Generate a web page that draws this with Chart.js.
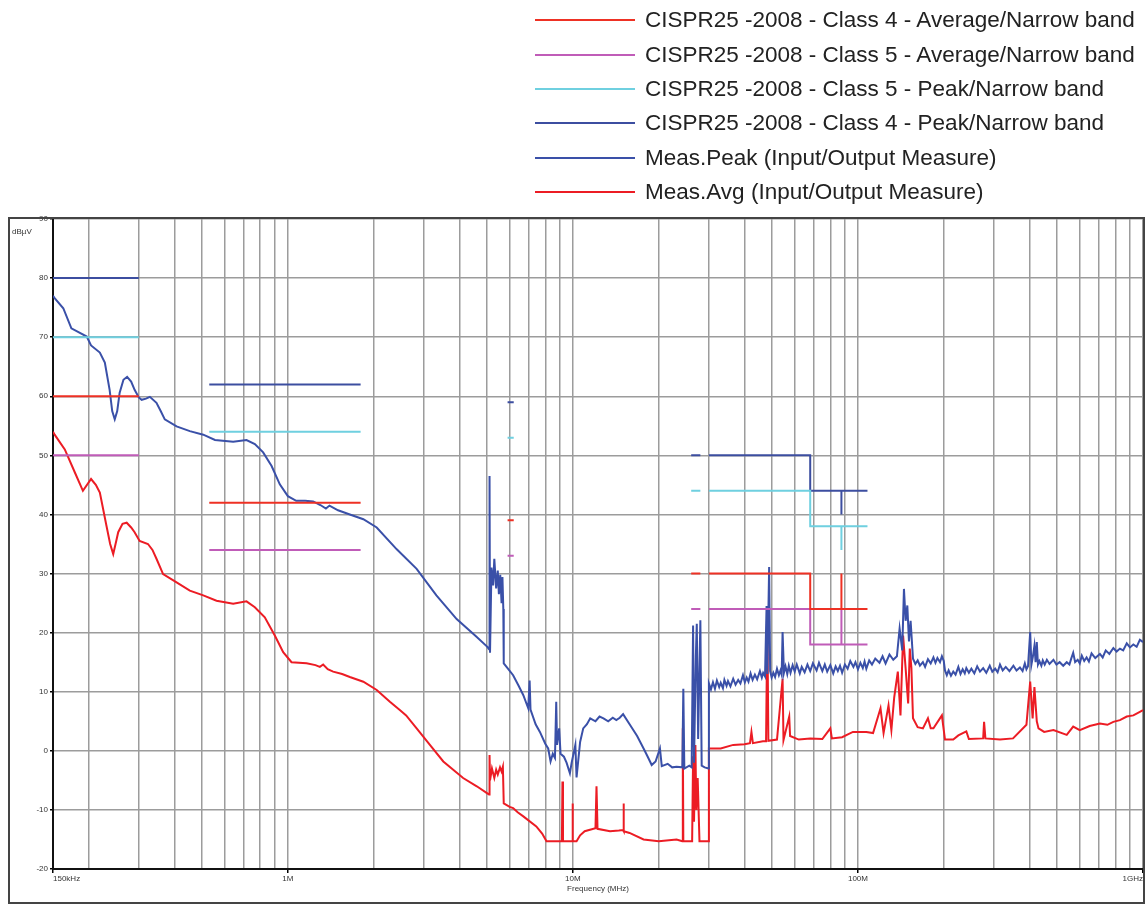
<!DOCTYPE html>
<html>
<head>
<meta charset="utf-8">
<title>CISPR25 - Input/Output Measure</title>
<script src="https://cdn.jsdelivr.net/npm/chart.js@4.4.1/dist/chart.umd.min.js"></script>
<style>
  html, body { margin: 0; padding: 0; background: #fff; }
  #wrap { position: relative; width: 1146px; height: 905px; }
  #legend { position: absolute; top: 3px; right: 6px; margin: 0; padding: 0; list-style: none;
    font-family: 'Liberation Sans', Arial, sans-serif; font-size: 22.5px; color: #222; }
  #legend li { height: 34.4px; display: flex; align-items: center; justify-content: flex-end; }
  #legend .swatch { display: inline-block; width: 100px; height: 2px; margin-right: 10px; }
  #legend .txt { display: inline-block; width: 495px; white-space: nowrap; }
</style>
</head>
<body>
<div id="wrap">
  <canvas id="emiChart" width="1146" height="905"></canvas>
  <ul id="legend"></ul>
</div>
<script>
// asse X in MHz (scala log), asse Y in dBµV
const xTickValues = [0.15, 0.2, 0.3, 0.4, 0.5, 0.6, 0.7, 0.8, 0.9,
  1, 2, 3, 4, 5, 6, 7, 8, 9, 10, 20, 30, 40, 50, 60, 70, 80, 90,
  100, 200, 300, 400, 500, 600, 700, 800, 900, 1000];
const xTickLabels = { 0.15: "150kHz", 1: "1M", 10: "10M", 100: "100M", 1000: "1GHz" };
const yTickStep = 10;

// limiti CISPR25 (null = interruzione tra le bande)
const limitFreq = [0.15, 0.3, 0.3, 0.53, 1.8, 1.8, 5.9, 6.2, 6.2, 26, 28, 28,
  30, 68, 68, 87.5, 87.5, 87.5, 108];
const class4Avg = [60, 60, null, 42, 42, null, 39, 39, null, 30, 30, null,
  30, 30, 24, 24, 30, 24, 24];
const class5Avg = [50, 50, null, 34, 34, null, 33, 33, null, 24, 24, null,
  24, 24, 18, 18, 24, 18, 18];
const class5Peak = [70, 70, null, 54, 54, null, 53, 53, null, 44, 44, null,
  44, 44, 38, 38, 34, 38, 38];
const class4Peak = [80, 80, null, 62, 62, null, 59, 59, null, 50, 50, null,
  50, 50, 44, 44, 40, 44, 44];

// misura di picco, 150 kHz - 30 MHz
const peakFreqLow = [0.15, 0.152, 0.163, 0.174, 0.185, 0.197, 0.204, 0.219, 0.228, 0.237, 0.242,
  0.247, 0.252, 0.257, 0.265, 0.273, 0.282, 0.29, 0.3, 0.307, 0.318, 0.328, 0.346, 0.358,
  0.37, 0.407, 0.453, 0.505, 0.555, 0.643, 0.716, 0.766, 0.819, 0.877, 0.937, 1.0, 1.07,
  1.15, 1.227, 1.3, 1.36, 1.4, 1.5, 1.65, 1.84, 2.05, 2.41, 2.83, 3.32, 3.91, 4.59, 5.01,
  5.08, 5.1, 5.12, 5.18, 5.25, 5.3, 5.38, 5.45, 5.5, 5.56, 5.62, 5.66, 5.7, 5.72, 5.85,
  6.17, 6.45, 6.7, 6.97, 7.05, 7.1, 7.4, 7.66, 8.0, 8.19, 8.35, 8.5, 8.65, 8.74, 8.8,
  8.95, 9.05, 9.3, 9.5, 9.76, 9.9, 10.2, 10.3, 10.6, 10.87, 11.2, 11.5, 12.0, 12.4, 12.8,
  13.3, 13.8, 14.2, 14.6, 15.0, 15.85, 16.8, 17.7, 18.3, 18.9, 19.5, 20.2, 20.5, 21.5,
  22.3, 23.1, 24.2, 24.4, 24.6, 25.6, 26.1, 26.4, 26.6, 27.0, 27.2, 27.5, 28.0, 28.3,
  29.0, 29.9];
const peakValLow = [77.0, 76.6, 74.9, 71.5, 70.8, 70.1, 68.6, 67.4, 65.7, 61.1, 57.5,
  56.1, 57.5, 60.6, 62.8, 63.3, 62.5, 61.1, 59.8, 59.4, 59.6, 59.9, 58.9, 57.5,
  56.1, 54.9, 54.1, 53.5, 52.6, 52.3, 52.6, 51.9, 50.5, 48.2, 45.1, 43.1, 42.3,
  42.3, 42.2, 41.6, 41.0, 41.5, 40.7, 40.0, 39.2, 37.8, 34.1, 30.8, 26.3, 22.3, 19.3, 17.6,
  17.2, 46.5, 16.6, 31.0, 28.0, 32.5, 27.5, 30.5, 26.5, 29.8, 25.0, 29.4, 24.0, 14.8, 14.2,
  12.8, 11.0, 9.4, 7.2, 11.9, 7.0, 4.5, 3.2, 1.2, 0.4, -1.8, -0.5, -1.2, 8.3, 1.0,
  3.8, -0.5, -1.0, -2.0, -3.8, -2.0, 1.0, -4.5, 1.5, 3.8, 4.5, 5.5, 5.0, 5.8, 5.5,
  5.0, 5.6, 5.2, 5.6, 6.2, 4.4, 2.5, 0.4, -1.0, -2.4, -1.8, 0.4, -2.6, -2.2,
  -2.8, -2.7, -2.8, 10.5, -3.0, -2.5, -2.8, 21.2, -2.0, 16.0, 21.5, 2.0, 22.1, -2.5,
  -2.8, -3.0];

// misura di picco, 30 MHz - 1 GHz
const peakFreqHigh = [30.0, 30.5, 31, 31.5, 32, 32.6, 33, 33.6, 34, 34.6,
  35, 35.7, 36.5, 37.2, 38, 38.7, 39.5, 40.1, 40.7, 41.3,
  42, 42.7, 43.5, 44.3, 45.3, 46, 46.5, 47.2, 47.8, 48.1,
  48.8, 49.2, 49.8, 50.5, 51.2, 52, 52.8, 53.5, 54.0, 54.4,
  55, 55.7, 56.5, 57.2, 58, 59, 60, 61, 62.5, 63.5,
  65, 66.5, 68, 69.5, 71.6, 73, 75, 76.5, 78, 80,
  81.9, 83.5, 85, 86.5, 88, 90, 92, 94, 96.4, 98,
  100, 102, 104, 105.5, 107, 109.5, 112, 115, 119, 122,
  125, 129, 133, 137, 140, 143, 145, 147, 149, 151,
  153, 156, 159, 162, 165, 169, 172, 176, 180, 184,
  187, 190, 194, 197, 200, 202, 205, 208, 212, 216,
  220, 225, 229, 233, 237, 240, 245, 250, 256, 262,
  268, 275, 282, 290, 296, 303, 309, 315, 322, 330,
  340, 351, 360, 370, 378, 385, 390, 395, 402, 406,
  411, 416, 420, 424, 428, 433, 440, 445, 452, 460,
  470, 485, 497, 510, 525, 540, 552, 560, 569, 578,
  590, 600, 610, 622, 634, 646, 660, 680, 706, 722,
  740, 762, 787, 808, 830, 852, 877, 900, 925, 950,
  975, 1000];
const peakValHigh = [11.4, 10.4, 11.6, 10.5, 11.9, 10.8, 11.5, 10.6, 12.0, 11.0,
  11.8, 10.9, 12.2, 11.2, 12.0, 11.4, 12.8, 11.6, 12.4, 11.7,
  13.1, 12.0, 12.9, 12.1, 13.5, 12.4, 13.2, 12.6, 24.5, 13.0,
  31.1, 13.5, 12.4, 13.2, 12.5, 13.9, 12.8, 13.6, 12.9, 20.1,
  13.2, 14.3, 13.0, 14.4, 13.2, 14.5, 13.4, 14.6, 13.1, 14.2,
  13.3, 14.6, 13.5, 14.8, 13.6, 14.9, 13.5, 14.6, 13.4, 14.5,
  13.1, 14.3, 13.5, 14.4, 13.2, 14.6, 13.9, 15.2, 14.2, 15.0,
  13.8, 14.9, 14.0, 15.1, 13.9, 15.3, 14.6, 15.6, 14.9, 16.0,
  14.8, 16.3, 15.4, 16.0, 20.7, 17.0, 27.4, 22.0, 24.6, 18.5,
  22.0, 15.6, 14.7, 15.3, 14.4, 15.0, 14.2, 15.5, 14.8, 15.8,
  14.9, 15.7, 15.0, 16.0, 15.2, 13.6, 12.8, 13.6, 12.7, 13.4,
  12.9, 14.2, 13.0, 13.8, 13.1, 14.0, 13.2, 13.9, 13.1, 14.3,
  13.4, 14.0, 13.2, 14.4, 13.4, 13.9, 13.3, 14.6, 13.6, 14.2,
  13.5, 14.4, 13.6, 14.1, 13.5, 14.8, 13.8, 14.3, 20.1, 14.6,
  16.0, 17.8, 15.0, 18.4, 14.6, 15.2, 14.4, 15.3, 14.6, 15.4,
  14.7, 15.4, 14.6, 15.0, 14.4, 15.0, 14.6, 15.6, 16.6, 15.0,
  15.4, 14.8, 16.1, 15.2, 15.8, 15.1, 16.5, 15.7, 16.4, 15.8,
  17.0, 16.4, 17.4, 16.8, 17.3, 17.0, 18.2, 17.5, 18.0, 17.6,
  18.8, 18.4];

// misura media
const avgFreq = [0.15, 0.152, 0.165, 0.179, 0.191, 0.204, 0.212, 0.219, 0.231, 0.238, 0.244,
  0.25, 0.254, 0.263, 0.272, 0.282, 0.29, 0.302, 0.323, 0.335, 0.346, 0.365, 0.407, 0.453,
  0.505, 0.562, 0.643, 0.716, 0.766, 0.83, 0.9, 0.963, 1.03, 1.163, 1.25, 1.295, 1.33,
  1.38, 1.442, 1.55, 1.65, 1.84, 2.05, 2.28, 2.47, 2.6, 2.83, 3.15, 3.51, 4.12, 4.6,
  5.01, 5.08, 5.1, 5.12, 5.2, 5.3, 5.38, 5.45, 5.55, 5.62, 5.68, 5.72, 6.0, 6.17, 6.4,
  6.7, 7.44, 7.8, 8.08, 9.15, 9.19, 9.23, 9.95, 9.97, 10.0, 10.3, 10.6, 11.0, 12.0,
  12.1, 12.2, 13.5, 14.5, 15.0, 15.05, 15.1, 15.8, 17.7, 20, 23.1, 24.2, 24.3, 24.4,
  25.5, 26.2, 26.4, 26.6, 26.9, 27.1, 27.4, 27.8, 29.9, 30.0, 33, 36.5, 40, 41.8, 42.3,
  42.8, 46.4, 47.6, 48.1, 48.5, 52, 54.4, 54.8, 57.4, 57.8, 62, 68, 75, 80, 81, 88, 96,
  107, 113, 120, 123, 128, 131, 134, 138, 141, 144, 147, 150, 152, 154, 156, 162, 169,
  176, 180, 184, 197, 200, 202, 216, 225, 240, 245, 275, 277, 280, 315, 350, 390, 402,
  410, 416, 424, 430, 450, 485, 540, 569, 600, 650, 706, 750, 787, 830, 877, 925, 975, 1000];
const avgVal = [54.0, 53.5, 51.0, 47.1, 44.0, 46.0, 45.0, 43.7, 38.1, 35.0, 33.3,
  35.5, 37.0, 38.4, 38.6, 37.8, 37.0, 35.5, 35.0, 34.0, 32.5, 29.9, 28.5, 27.1,
  26.3, 25.4, 24.9, 25.3, 24.3, 22.6, 19.5, 16.7, 15.0, 14.8, 14.5, 14.2, 14.6,
  13.8, 13.4, 13.0, 12.5, 11.7, 10.3, 8.3, 6.9, 6.0, 3.8, 1.0, -1.8, -4.6, -6.0,
  -7.2, -7.4, -0.7, -5.0, -3.0, -4.6, -3.2, -4.0, -2.8, -3.5, -2.7, -8.9, -9.5, -9.7, -10.4,
  -11.1, -12.8, -14.0, -15.3, -15.3, -5.2, -15.3, -15.3, -8.9, -15.3, -15.3, -14.3, -13.6, -13.1,
  -6.0, -13.2, -13.6, -13.5, -13.4, -8.9, -13.6, -13.9, -15.0, -15.3, -15.0, -15.3, 3.8, -15.3,
  -15.3, -15.3, -0.9, -12.0, 1.0, -10.0, -4.6, -15.3, -15.3, 0.4, 0.4, 1.0, 1.1, 1.3, 3.2,
  1.3, 1.6, 1.6, 22.3, 1.7, 1.9, 12.2, 1.8, 5.8, 2.5, 1.9, 2.1, 2.0, 3.8, 2.1, 2.3, 3.2,
  3.2, 3.0, 7.2, 3.0, 7.7, 3.5, 9.0, 13.4, 6.0, 19.5, 13.9, 8.0, 17.3, 14.0, 5.5, 4.0, 3.8,
  5.5, 3.8, 3.8, 6.0, 3.5, 1.9, 1.9, 2.6, 3.3, 2.0, 2.1, 4.9, 2.1, 1.9, 2.1, 4.4, 11.7,
  5.5, 10.8, 5.0, 3.8, 3.2, 3.5, 2.7, 4.1, 3.5, 4.2, 4.6, 4.4, 4.9, 5.2, 5.8, 6.0, 6.6, 6.9];

const toPoints = (xs, ys) => xs.map((x, i) => ({ x: x, y: ys[i] }));

const lineSet = (label, color, points) => ({
  label: label,
  data: points,
  borderColor: color,
  backgroundColor: color,
  borderWidth: 2,
  pointRadius: 0,
  fill: false,
  tension: 0,
  spanGaps: false
});

const framePlugin = {
  id: "frame",
  beforeDraw(chart) {
    const ctx = chart.ctx;
    ctx.save();
    ctx.fillStyle = "#fff";
    ctx.fillRect(0, 0, chart.width, chart.height);
    ctx.restore();
  },
  afterDraw(chart) {
    const { ctx, chartArea } = chart;
    ctx.save();
    ctx.strokeStyle = "#444";
    ctx.lineWidth = 2;
    ctx.strokeRect(9, chartArea.top - 1, chartArea.right - 8, chart.height - chartArea.top - 1);
    ctx.fillStyle = "#333";
    ctx.font = "8px 'Liberation Sans', Arial, sans-serif";
    ctx.textBaseline = "middle";
    ctx.fillText("dBµV", 12, chartArea.top + 13);
    ctx.restore();
  }
};

const chart = new Chart(document.getElementById("emiChart"), {
  type: "line",
  data: {
    datasets: [
      lineSet("CISPR25 -2008 - Class 4 - Average/Narrow band", "#ee3124", toPoints(limitFreq, class4Avg)),
      lineSet("CISPR25 -2008 - Class 5 - Average/Narrow band", "#c05cb8", toPoints(limitFreq, class5Avg)),
      lineSet("CISPR25 -2008 - Class 5 - Peak/Narrow band", "#6fd0e0", toPoints(limitFreq, class5Peak)),
      lineSet("CISPR25 -2008 - Class 4 - Peak/Narrow band", "#3c4ea0", toPoints(limitFreq, class4Peak)),
      lineSet("Meas.Peak (Input/Output Measure)", "#3a50a8",
        toPoints(peakFreqLow, peakValLow).concat(toPoints(peakFreqHigh, peakValHigh))),
      lineSet("Meas.Avg (Input/Output Measure)", "#ec1c24", toPoints(avgFreq, avgVal))
    ]
  },
  options: {
    responsive: false,
    animation: false,
    events: [],
    layout: { padding: { top: 219, right: 3, left: 0, bottom: 0 } },
    plugins: {
      tooltip: { enabled: false },
      legend: { display: false }
    },
    scales: {
      x: {
        type: "logarithmic",
        min: 0.15,
        max: 1000,
        afterBuildTicks: scale => { scale.ticks = xTickValues.map(v => ({ value: v })); },
        afterFit: scale => { scale.height = 36; },
        grid: {
          color: "#9c9c9c",
          lineWidth: 1.5,
          tickLength: 4,
          tickColor: c => (xTickLabels[c.tick && c.tick.value] ? "#000" : "rgba(0,0,0,0)")
        },
        border: { color: "#111", width: 2 },
        ticks: {
          autoSkip: false,
          maxRotation: 0,
          align: "inner",
          padding: 1,
          color: "#333",
          font: { family: "'Liberation Sans', Arial, sans-serif", size: 8 },
          callback: v => xTickLabels[v] || ""
        },
        title: {
          display: true,
          text: "Frequency (MHz)",
          color: "#333",
          font: { family: "'Liberation Sans', Arial, sans-serif", size: 8 },
          padding: { top: 0, bottom: 11 }
        }
      },
      y: {
        min: -20,
        max: 90,
        afterFit: scale => { scale.width = 53; },
        grid: { color: "#9c9c9c", lineWidth: 1.5, tickLength: 3, tickColor: "#000" },
        border: { color: "#111", width: 2 },
        ticks: {
          stepSize: yTickStep,
          padding: 2,
          color: "#333",
          font: { family: "'Liberation Sans', Arial, sans-serif", size: 8 }
        }
      }
    }
  },
  plugins: [framePlugin]
});

// legenda HTML, una voce per riga, costruita dai dataset
const legendEl = document.getElementById("legend");
chart.data.datasets.forEach(ds => {
  const li = document.createElement("li");
  li.innerHTML = `<span class="swatch" style="background:${ds.borderColor}"></span><span class="txt">${ds.label}</span>`;
  legendEl.appendChild(li);
});
</script>
</body>
</html>
